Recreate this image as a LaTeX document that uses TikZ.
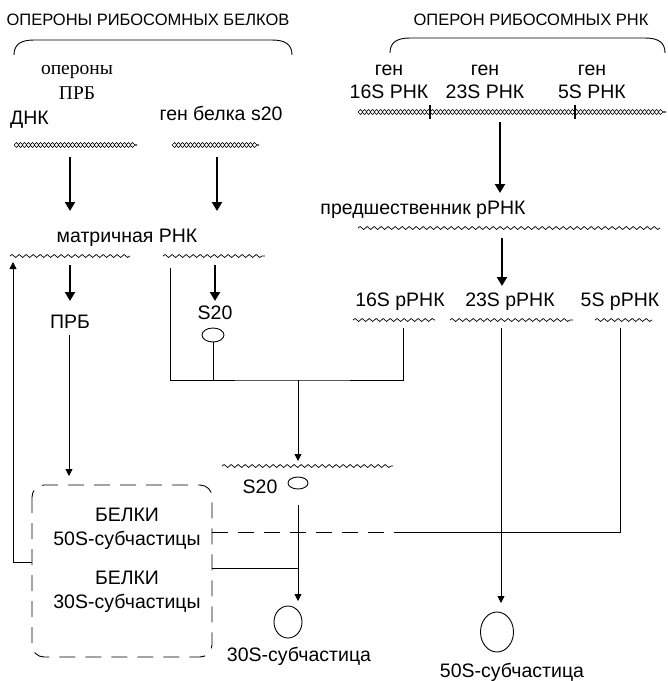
\documentclass[tikz,border=0pt]{standalone}
\usepackage{fontspec}
\setmainfont{Liberation Sans}
\newfontfamily\oldserif{Liberation Serif}
\usetikzlibrary{arrows.meta}
\usetikzlibrary{decorations.pathmorphing}
\usetikzlibrary{shapes.geometric}

\tikzset{
  headtxt/.style={font=\fontsize{16.5}{19}\selectfont, inner sep=0pt},
  txt/.style={font=\fontsize{19.5}{22}\selectfont, inner sep=0pt},
  sertxt/.style={font=\oldserif\fontsize{19.5}{22}\selectfont, inner sep=0pt},
  wave/.style={decorate, decoration={snake, amplitude=1.5pt, segment length=7pt}, line width=0.7pt},
  helix/.style={decorate, decoration={snake, amplitude=2.4pt, segment length=8pt}, line width=0.6pt},
  antihelix/.style={helix, decoration={mirror}},
  bigarrow/.style={line width=2.6pt, -{Triangle[length=9pt,width=10pt]}},
  thinarrow/.style={line width=0.9pt, -{Triangle[length=7pt,width=7pt]}},
  link/.style={line width=0.9pt},
  dashlink/.style={line width=0.9pt, dash pattern=on 16pt off 10pt},
  particle/.style={draw, ellipse, line width=0.9pt, inner sep=0pt},
}

\begin{document}
\begin{tikzpicture}[x=1pt,y=-1pt]
        \useasboundingbox (0,0) rectangle (668,681);
        % titles and braces
        \node[headtxt] (titleprot) at (148,20) {ОПЕРОНЫ РИБОСОМНЫХ БЕЛКОВ};
        \node[headtxt] (titlerna) at (531,20) {ОПЕРОН РИБОСОМНЫХ РНК};
        \draw[link] (14,55) .. controls (14,45) and (20,40) .. (34,40) -- (272,40) .. controls (286,40) and (292,45) .. (292,55);
        \draw[link] (390,53) .. controls (390,43) and (396,38) .. (410,38) -- (645,38) .. controls (659,38) and (665,43) .. (665,53);
        % gene labels
        \node[sertxt] (operony) at (77,72) {опероны};
        \node[sertxt] (prbop) at (77,93) {ПРБ};
        \node[txt, anchor=west] (dnk) at (10,120) {ДНК};
        \node[txt] (gens20) at (221,113) {ген белка s20};
        \foreach \x/\nm/\t in {389/g16/16S, 485/g23/23S, 592/g5/5S}
        {
            \node[txt] (\nm) at (\x,70) {ген};
            \node[txt] (\nm r) at (\x,92) {\t\ РНК};
        }
        % DNA strands
        \coordinate (dnaL-w) at (14,145);
        \coordinate (dnaL-e) at (137,145);
        \coordinate (dnaS-w) at (172,145);
        \coordinate (dnaS-e) at (259,145);
        \coordinate (dnaR-w) at (358,112);
        \coordinate (dnaR-e) at (666,112);
        \foreach \a/\b in {dnaL-w/dnaL-e, dnaS-w/dnaS-e, dnaR-w/dnaR-e}
        {
            \draw[helix] (\a) -- (\b);
            \draw[antihelix] (\a) -- (\b);
        }
        \draw[line width=2.6pt] (430,105) -- (430,119);
        \draw[line width=2.6pt] (575,105) -- (575,119);
        % RNA
        \node[txt] (pre) at (423,210) {предшественник рРНК};
        \node[txt] (mrna) at (127,238) {матричная РНК};
        \coordinate (pre-w) at (358,228);
        \coordinate (pre-e) at (660,228);
        \coordinate (mL-w) at (10,256);
        \coordinate (mL-e) at (130,256);
        \coordinate (mS-w) at (163,256);
        \coordinate (mS-e) at (265,256);
        \node[txt] (r16) at (400,302) {16S рРНК};
        \node[txt] (r23) at (510,302) {23S рРНК};
        \node[txt] (r5) at (620,302) {5S рРНК};
        \coordinate (r16-w) at (353,320);
        \coordinate (r16-e) at (435,320);
        \coordinate (r23-w) at (450,320);
        \coordinate (r23-e) at (573,320);
        \coordinate (r5-w) at (595,320);
        \coordinate (r5-e) at (652,320);
        \coordinate (rib-w) at (222,466);
        \coordinate (rib-e) at (393,466);
        \foreach \a/\b in {pre-w/pre-e, mL-w/mL-e, mS-w/mS-e, r16-w/r16-e, r23-w/r23-e, r5-w/r5-e, rib-w/rib-e}
        {
            \draw[wave] (\a) -- (\b);
        }
        % products
        \node[txt] (prb) at (70,322) {ПРБ};
        \node[txt] (s20) at (215,313) {S20};
        \node[particle, minimum width=22pt, minimum height=14pt] (s20p) at (213,335) {};
        \node[txt] (s20b) at (260,487) {S20};
        \node[particle, minimum width=20pt, minimum height=12pt] (s20bp) at (298,483) {};
        % protein box
        \draw[dashlink, rounded corners=12pt] (32,485) rectangle (212,657);
        \node[txt] (bel50) at (127,515) {БЕЛКИ};
        \node[txt] (sub50) at (127,540) {50S-субчастицы};
        \node[txt] (bel30) at (127,578) {БЕЛКИ};
        \node[txt] (sub30) at (127,603) {30S-субчастицы};
        % subparticles
        \node[particle, minimum width=28pt, minimum height=32pt] (p30) at (288,622) {};
        \node[txt] (p30l) at (299,656) {30S-субчастица};
        \node[particle, minimum width=33pt, minimum height=40pt] (p50) at (497,632) {};
        \node[txt] (p50l) at (512,672) {50S-субчастица};
        % thick arrows
        \coordinate (t1) at (70,157);
        \coordinate (t2) at (217,157);
        \coordinate (t3) at (500,122);
        \coordinate (t4) at (502,238);
        \coordinate (t5) at (70,265);
        \coordinate (t6) at (215,265);
        \draw[bigarrow] (t1) -- (70,211);
        \draw[bigarrow] (t2) -- (217,211);
        \draw[bigarrow] (t3) -- (500,193);
        \draw[bigarrow] (t4) -- (502,286);
        \draw[bigarrow] (t5) -- (70,301);
        \draw[bigarrow] (t6) -- (215,301);
        % assembly lines
        \coordinate (join30) at (298,380);
        \coordinate (left30) at (170,268);
        \coordinate (up16) at (403,328);
        \coordinate (up23) at (501,328);
        \coordinate (up5) at (620,328);
        \coordinate (fb) at (13,262);
        \coordinate (prbdown) at (69,335);
        \coordinate (s20down) at (298,505);
        \coordinate (box-e50) at (212,532);
        \coordinate (box-e30) at (212,568);
        \coordinate (box-w) at (32,562);
        \coordinate (dash-end) at (402,532);
        \draw[link] (left30) |- (join30) -| (up16);
        \draw[link] (s20p.south) -- (s20p.south |- join30);
        \draw[thinarrow] (join30) -- (298,461);
        \draw[thinarrow] (prbdown) -- (69,476);
        \draw[thinarrow] (s20down) -- (298,601);
        \draw[link] (box-e30) -- (298,568);
        \draw[thinarrow] (up23) -- (501,603);
        \draw[dashlink] (box-e50) -- (dash-end);
        \draw[link] (dash-end) -| (up5);
        \draw[thinarrow] (box-w) -| (fb);
\end{tikzpicture}
\end{document}
